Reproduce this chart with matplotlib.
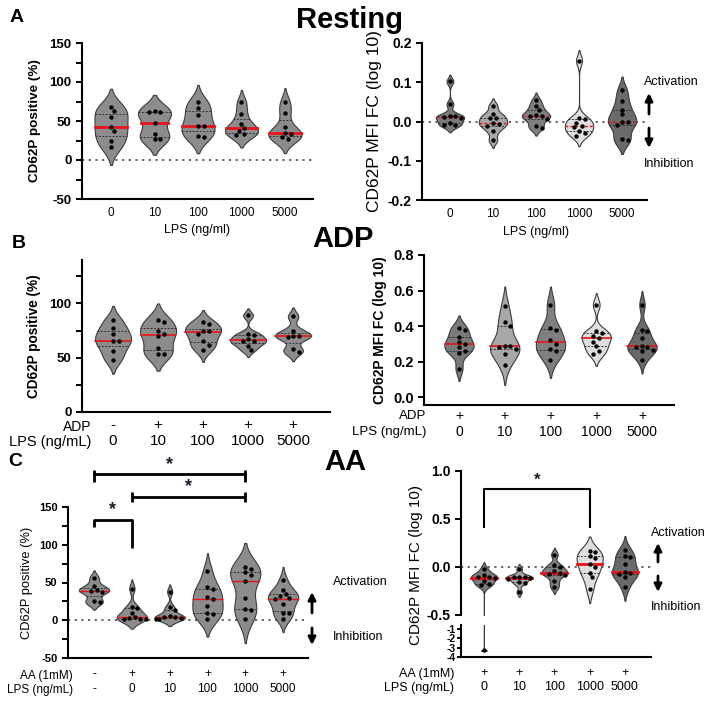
import numpy as np
import matplotlib
matplotlib.use('Agg')
import matplotlib.pyplot as plt
from matplotlib.transforms import blended_transform_factory

plt.rcParams['font.family'] = ['Liberation Sans', 'DejaVu Sans']

W, H = 708, 706

# ---- data ----
lps_doses = ['0', '10', '100', '1000', '5000']
aa_doses = ['-', '0', '10', '100', '1000', '5000']

rest_pct = [
    [68, 63, 55, 42, 37, 25, 17],
    [63, 62, 61, 48, 33, 27, 27],
    [75, 67, 58, 44, 43, 31, 30],
    [74, 59, 46, 41, 37, 33, 32],
    [74, 60, 42, 34, 33, 29, 27],
]
rest_mfi = [
    [0.102, 0.044, 0.015, 0.013, 0.011, 0.008, -0.005, -0.008, -0.010],
    [0.040, 0.020, 0.010, 0.009, -0.004, -0.006, -0.012, -0.025, -0.048],
    [0.054, 0.039, 0.029, 0.016, 0.014, 0.013, 0.006, -0.012, -0.016],
    [0.155, 0.008, 0.006, -0.003, -0.012, -0.013, -0.025, -0.030, -0.036],
    [0.080, 0.053, 0.030, 0.018, -0.001, -0.002, -0.010, -0.044, -0.048],
]
adp_pct = [
    [85, 77, 72, 65, 65, 56, 48],
    [85, 83, 75, 72, 70, 59, 53, 53],
    [83, 81, 75, 75, 72, 65, 62, 57],
    [89, 72, 71, 67, 65, 65, 61, 57],
    [88, 75, 70, 70, 69, 58, 55],
]
adp_mfi = [
    [0.39, 0.38, 0.34, 0.31, 0.30, 0.28, 0.26, 0.25, 0.16],
    [0.51, 0.42, 0.40, 0.29, 0.285, 0.28, 0.27, 0.24, 0.18],
    [0.52, 0.39, 0.38, 0.32, 0.30, 0.27, 0.26, 0.21],
    [0.52, 0.37, 0.36, 0.345, 0.33, 0.31, 0.285, 0.26, 0.24],
    [0.52, 0.38, 0.37, 0.33, 0.29, 0.28, 0.28, 0.265, 0.26, 0.21],
]
aa_pct = [
    [56, 45, 40, 39, 38, 25, 24],
    [42, 17, 16, 9, 4, 3, 2, 2, 1],
    [38, 18, 14, 5, 4, 4, 3, 2, 2],
    [65, 44, 42, 31, 28, 19, 9, 8, 2],
    [71, 68, 64, 60, 52, 29, 15, 13, 1],
    [53, 40, 35, 32, 29, 28, 21, 10, 9, 2],
]
aa_mfi = [
    [-0.02, -0.08, -0.10, -0.10, -0.11, -0.15, -0.18, -0.19, -3.3],
    [-0.02, -0.10, -0.10, -0.10, -0.11, -0.12, -0.16, -0.17, -0.26],
    [0.13, 0.02, 0.0, -0.04, -0.06, -0.07, -0.08, -0.15, -0.21],
    [0.17, 0.16, 0.11, 0.09, 0.035, 0.0, -0.06, -0.10, -0.23],
    [0.18, 0.11, 0.10, 0.03, -0.05, -0.06, -0.07, -0.10, -0.21],
]

grey = '#8c8c8c'
mfi_colors = ['#7a7a7a', '#a8a8a8', '#7f7f7f', '#dedede', '#6a6a6a']

fig = plt.figure(figsize=(W / 100, H / 100), dpi=100)


def fp(x, y):
    # pixel position -> figure fraction
    return x / W, 1 - y / H


def axbox(x0, y0, x1, y1):
    return [x0 / W, 1 - y1 / H, (x1 - x0) / W, (y1 - y0) / H]


def kde(vals, cut=2):
    v = np.asarray(vals, float)
    q1, q3 = np.percentile(v, [25, 75])
    a = min(v.std(ddof=1), (q3 - q1) / 1.34) if q3 > q1 else v.std(ddof=1)
    bw = 0.9 * a * len(v) ** (-0.2)
    lo, hi = v.min() - cut * bw, v.max() + cut * bw
    n = max(400, int((hi - lo) / bw * 40))
    y = np.linspace(lo, hi, n)
    d = np.exp(-0.5 * ((y[:, None] - v[None, :]) / bw) ** 2).sum(1)
    return y, d / d.max()


def swarm(ax, pos, vals, dot=4.6):
    v = np.asarray(vals, float)
    pts = ax.transData.transform(np.column_stack([np.full(len(v), pos, float), v]))
    x0, ys = pts[0, 0], pts[:, 1]
    offs = np.zeros(len(v))
    done = []
    for i in np.argsort(-v):
        for k in [0, 1, -1, 2, -2, 3, -3, 4, -4, 5, -5]:
            o = k * dot * 0.6
            if all(np.hypot(o - offs[j], ys[i] - ys[j]) >= dot for j in done):
                break
        offs[i] = o
        done.append(i)
    return ax.transData.inverted().transform(np.column_stack([x0 + offs, ys]))[:, 0]


def violin(axes, pos, vals, color, hw, med_ls='-', med_lw=1.5):
    y, d = kde(vals)
    q1, med, q3 = np.percentile(vals, [25, 50, 75])
    xs = swarm(axes[0], pos, vals)
    for ax in axes:
        ax.fill_betweenx(y, pos - hw * d, pos + hw * d, facecolor=color,
                         edgecolor='#3c3c3c', lw=0.8, zorder=2)
        for q in (q1, q3):
            w = hw * np.interp(q, y, d)
            ax.plot([pos - w, pos + w], [q, q], color='#333333', ls=(0, (2, 1.5)), lw=0.7, zorder=3)
        w = hw * np.interp(med, y, d)
        ax.plot([pos - w, pos + w], [med, med], color='#e8141b', ls=med_ls, lw=med_lw, zorder=4)
        ax.scatter(xs, vals, s=10, color='black', zorder=5, linewidths=0)


def style(ax, yticks, ylabels, tsize, minor=None):
    for s in ('top', 'right'):
        ax.spines[s].set_visible(False)
    for s in ('left', 'bottom'):
        ax.spines[s].set_linewidth(1.5)
    ax.set_yticks(yticks)
    ax.set_yticklabels(ylabels, fontsize=tsize, fontweight='bold')
    if minor is not None:
        ax.set_yticks(minor, minor=True)
    ax.tick_params(axis='y', which='both', length=4, width=1.4)
    ax.tick_params(axis='x', length=0)


def zero_line(ax):
    ax.axhline(0, color='#555555', ls=(0, (1.2, 2.5)), lw=1.3, zorder=1)


def rows(ax, ypix, texts, size):
    tr = blended_transform_factory(ax.transData, fig.transFigure)
    for i, t in enumerate(texts):
        ax.text(i, 1 - ypix / H, t, transform=tr, ha='center', va='center', fontsize=size)


# ---------------- Row A: Resting ----------------
ax = fig.add_axes(axbox(82, 43, 313, 199))
ax.set_xlim(-0.667, 4.644)
ax.set_ylim(-50, 150)
zero_line(ax)
for i, vals in enumerate(rest_pct):
    violin([ax], i, vals, grey, 0.38, '-', 2.0)
style(ax, [-50, 0, 50, 100, 150], ['-50', '0', '50', '100', '150'], 9.5, [-25, 25, 75, 125])
ax.set_xticks(range(5))
ax.set_xticklabels(lps_doses, fontsize=8.5)
ax.tick_params(axis='x', pad=6)
ax.set_ylabel('CD62P positive (%)', fontsize=9.7, fontweight='bold', labelpad=6)
fig.text(*fp(197, 230), 'LPS (ng/ml)', ha='center', va='center', fontsize=9)

ax = fig.add_axes(axbox(422, 43, 647, 200))
ax.set_xlim(-0.65, 4.58)
ax.set_ylim(-0.2, 0.2)
zero_line(ax)
for i, vals in enumerate(rest_mfi):
    violin([ax], i, vals, mfi_colors[i], 0.33, (0, (2, 1.5)), 1.0)
style(ax, [-0.2, -0.1, 0, 0.1, 0.2], ['-0.2', '-0.1', '0.0', '0.1', '0.2'], 10)
ax.set_xticks(range(5))
ax.set_xticklabels(lps_doses, fontsize=8.5)
ax.tick_params(axis='x', pad=6)
ax.set_ylabel('CD62P MFI FC (log 10)', fontsize=12.5, labelpad=4)
fig.text(*fp(536, 232), 'LPS (ng/ml)', ha='center', va='center', fontsize=9)

# ---------------- Row B: ADP ----------------
ax = fig.add_axes(axbox(82, 260, 330, 412))
ax.set_xlim(-0.69, 4.82)
ax.set_ylim(0, 140)
for i, vals in enumerate(adp_pct):
    violin([ax], i, vals, grey, 0.4, '-', 1.2)
style(ax, [0, 50, 100], ['0', '50', '100'], 9.5, [25, 75, 125])
ax.set_xticks([])
ax.set_ylabel('CD62P positive (%)', fontsize=9.8, fontweight='bold', labelpad=6)
rows(ax, 425, ['-', '+', '+', '+', '+'], 11)
rows(ax, 441, lps_doses, 11)
fig.text(*fp(91, 427), 'ADP', ha='right', va='center', fontsize=10)
fig.text(*fp(91, 442), 'LPS (ng/mL)', ha='right', va='center', fontsize=10.5)

ax = fig.add_axes(axbox(424, 255, 674, 405))
ax.set_xlim(-0.765, 4.7)
ax.set_ylim(-0.045, 0.8)
for i, vals in enumerate(adp_mfi):
    violin([ax], i, vals, mfi_colors[i], 0.32, '-', 1.2)
style(ax, [0, 0.2, 0.4, 0.6, 0.8], ['0.0', '0.2', '0.4', '0.6', '0.8'], 10.5)
ax.set_xticks([])
ax.set_ylabel('CD62P MFI FC (log 10)', fontsize=10, fontweight='bold', labelpad=4)
rows(ax, 416, ['+'] * 5, 10)
rows(ax, 432, lps_doses, 10)
fig.text(*fp(426, 416), 'ADP', ha='right', va='center', fontsize=9.5)
fig.text(*fp(426, 432), 'LPS (ng/mL)', ha='right', va='center', fontsize=9.5)

# ---------------- Row C: AA ----------------
ax = fig.add_axes(axbox(68, 507, 308, 658))
ax.set_xlim(-0.69, 5.66)
ax.set_ylim(-50, 150)
zero_line(ax)
for i, vals in enumerate(aa_pct):
    violin([ax], i, vals, grey, 0.4, '-', 1.0)
style(ax, [-50, 0, 50, 100, 150], ['-50', '0', '50', '100', '150'], 8, [-25, 25, 75, 125])
ax.set_xticks([])
ax.set_ylabel('CD62P positive (%)', fontsize=9.3, labelpad=4)
rows(ax, 674, ['-', '+', '+', '+', '+', '+'], 8.5)
rows(ax, 689, aa_doses, 8.5)
fig.text(*fp(73, 676), 'AA (1mM)', ha='right', va='center', fontsize=8.5)
fig.text(*fp(73, 690), 'LPS (ng/mL)', ha='right', va='center', fontsize=8.5)
# significance brackets
kw = dict(color='black', lw=2, clip_on=False, solid_capstyle='butt')
ax.plot([0, 0, 1, 1], [123.5, 132.8, 132.8, 95.8], **kw)
ax.plot([1, 4], [163, 163], **kw)
ax.plot([1, 1], [157, 170], **kw)
ax.plot([4, 4], [157, 170], **kw)
ax.plot([0, 4], [193.6, 193.6], **kw)
ax.plot([0, 0], [183, 199], **kw)
ax.plot([4, 4], [183, 199], **kw)
for sx, sy in [(0.5, 146), (2.5, 177), (2.0, 206)]:
    ax.text(sx, sy, '*', ha='center', va='center', fontsize=13, fontweight='bold', color='#1a1a2a')
fig.text(*fp(333, 582), 'Activation', ha='left', va='center', fontsize=9)
fig.text(*fp(333, 637), 'Inhibition', ha='left', va='center', fontsize=9)
ap = dict(arrowstyle='-|>', lw=2, color='black', mutation_scale=11, shrinkA=0, shrinkB=0)
fig.add_artist(plt.Annotation('', xy=fp(312, 592), xytext=fp(312, 613), xycoords='figure fraction', arrowprops=ap))
fig.add_artist(plt.Annotation('', xy=fp(312, 645), xytext=fp(312, 628), xycoords='figure fraction', arrowprops=ap))

# right: broken axis
axu = fig.add_axes(axbox(461, 471, 651, 615))
axl = fig.add_axes(axbox(461, 625, 651, 657))
for a in (axu, axl):
    a.set_xlim(-0.65, 4.74)
axu.set_ylim(-0.5, 1.0)
axl.set_ylim(-4, -0.57)
zero_line(axu)
for i, vals in enumerate(aa_mfi):
    violin([axu, axl], i, vals, mfi_colors[i], 0.37, '-', 2.0)
style(axu, [-0.5, 0, 0.5, 1.0], ['-0.5', '0.0', '0.5', '1.0'], 10)
axu.spines['bottom'].set_visible(False)
axu.set_xticks([])
style(axl, [-4, -3, -2, -1], ['-4', '-3', '-2', '-1'], 7.5)
axl.tick_params(axis='y', length=3, pad=1)
axl.set_xticks([])
axu.set_ylabel('CD62P MFI FC (log 10)', fontsize=11, labelpad=6)
axu.yaxis.set_label_coords(-0.2, 0.35)
axu.plot([0, 0, 3, 3], [0.42, 0.81, 0.81, 0.42], color='black', lw=1.5, clip_on=False)
axu.text(1.5, 0.906, '*', ha='center', va='center', fontsize=12, fontweight='bold', color='#1a1a2a')
rows(axl, 673, ['+'] * 5, 9)
rows(axl, 687, lps_doses, 9)
fig.text(*fp(454, 674), 'AA (1mM)', ha='right', va='center', fontsize=9)
fig.text(*fp(454, 688), 'LPS (ng/mL)', ha='right', va='center', fontsize=9)
fig.text(*fp(651, 533), 'Activation', ha='left', va='center', fontsize=9)
fig.text(*fp(651, 607), 'Inhibition', ha='left', va='center', fontsize=9)
fig.add_artist(plt.Annotation('', xy=fp(658, 543), xytext=fp(658, 562), xycoords='figure fraction', arrowprops=ap))
fig.add_artist(plt.Annotation('', xy=fp(658, 592), xytext=fp(658, 576), xycoords='figure fraction', arrowprops=ap))

# A right annotations
fig.text(*fp(644, 82), 'Activation', ha='left', va='center', fontsize=9)
fig.text(*fp(644, 164), 'Inhibition', ha='left', va='center', fontsize=9)
fig.add_artist(plt.Annotation('', xy=fp(649, 93), xytext=fp(649, 114), xycoords='figure fraction', arrowprops=ap))
fig.add_artist(plt.Annotation('', xy=fp(649, 148), xytext=fp(649, 128), xycoords='figure fraction', arrowprops=ap))

# titles and panel letters
fig.text(*fp(350, 20), 'Resting', ha='center', va='center', fontsize=21, fontweight='bold')
fig.text(*fp(343, 239), 'ADP', ha='center', va='center', fontsize=21, fontweight='bold')
fig.text(*fp(345, 462), 'AA', ha='center', va='center', fontsize=21, fontweight='bold')
fig.text(*fp(17, 18), 'A', ha='center', va='center', fontsize=14, fontweight='bold')
fig.text(*fp(19, 244), 'B', ha='center', va='center', fontsize=14, fontweight='bold')
fig.text(*fp(15, 462), 'C', ha='center', va='center', fontsize=14, fontweight='bold')

fig.savefig('out.png', dpi=100)
